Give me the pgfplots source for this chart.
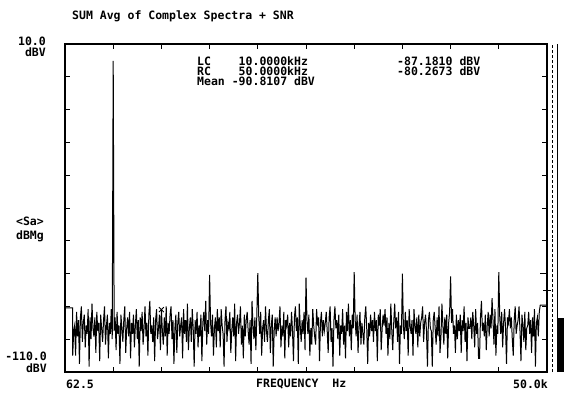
\documentclass[border=0pt]{standalone}
\usepackage{pgfplots}
\pgfplotsset{compat=1.18}
\usepackage{fontspec}
\newfontfamily\plotfont{DejaVu Sans Mono}
\newcommand\pf{\plotfont\bfseries\fontsize{11.5bp}{12bp}\selectfont}
\begin{document}
\begin{tikzpicture}
\useasboundingbox (-65bp,-22bp) rectangle (499bp,372bp);
\begin{axis}[
  at={(0,0)}, anchor=south west,
  scale only axis, width=482bp, height=328bp,
  xmin=0, xmax=50, ymin=-110, ymax=10,
  xtick={0,5,...,50}, ytick={-110,-98,...,10},
  xticklabels={}, yticklabels={},
  tick align=inside, major tick length=5bp,
  tick style={black, line width=0.9bp},
  axis line style={black, line width=1.1bp},
  clip=false,
]
\addplot[black, line width=1.0bp, mark=none] coordinates {
(0,-109)(0,-86.5)(0.8,-86.5)(0.8,-104)(0.9,-95)
(1.0,-93)(1.1,-104)(1.2,-88)(1.3,-97)(1.4,-91)(1.5,-107)(1.6,-90)(1.7,-86)(1.8,-99)(1.9,-92)
(2.0,-89)(2.1,-101)(2.2,-93)(2.3,-96)(2.4,-87)(2.5,-108)(2.6,-90)(2.7,-98)(2.8,-85)(2.9,-94)
(3.0,-97)(3.1,-90)(3.2,-103)(3.3,-88)(3.4,-95)(3.5,-92)(3.6,-106)(3.7,-89)(3.8,-94)(3.9,-99)
(4.0,-91)(4.1,-86)(4.2,-100)(4.3,-93)(4.4,-89)(4.5,-105)(4.6,-92)(4.7,-96)(4.8,-87)(4.9,-98)
(5.0,3.8)(5.1,-95)(5.2,-90)(5.3,-102)(5.4,-88)(5.5,-96)(5.6,-93)(5.7,-107)(5.8,-89)(5.9,-94)
(6.0,-99)(6.1,-91)(6.2,-86)(6.3,-103)(6.4,-94)(6.5,-90)(6.6,-97)(6.7,-88)(6.8,-105)(6.9,-92)
(7.0,-96)(7.1,-89)(7.2,-101)(7.3,-93)(7.4,-87)(7.5,-98)(7.6,-91)(7.7,-108)(7.8,-90)(7.9,-95)
(8.0,-88)(8.1,-100)(8.2,-94)(8.3,-86)(8.4,-97)(8.5,-92)(8.6,-104)(8.7,-89)(8.8,-84)(8.9,-96)
(9.0,-93)(9.1,-99)(9.2,-90)(9.3,-106)(9.4,-91)(9.5,-87)(9.6,-98)(9.7,-94)(9.8,-89)(9.9,-102)
(10.0,-87.18)(10.1,-95)(10.2,-100)(10.3,-90)(10.4,-97)(10.5,-86)(10.6,-104)(10.7,-92)(10.8,-96)(10.9,-89)
(11.0,-86)(11.1,-98)(11.2,-91)(11.3,-107)(11.4,-94)(11.5,-89)(11.6,-103)(11.7,-92)(11.8,-88)(11.9,-97)
(12.0,-93)(12.1,-90)(12.2,-105)(12.3,-87)(12.4,-96)(12.5,-91)(12.6,-99)(12.7,-85)(12.8,-102)(12.9,-94)
(13.0,-90)(13.1,-99)(13.2,-87)(13.3,-94)(13.4,-108)(13.5,-91)(13.6,-96)(13.7,-88)(13.8,-101)(13.9,-93)
(14.0,-97)(14.1,-89)(14.2,-106)(14.3,-92)(14.4,-88)(14.5,-95)(14.6,-84)(14.7,-100)(14.8,-91)(14.9,-96)
(15.0,-74.5)(15.1,-92)(15.2,-97)(15.3,-89)(15.4,-104)(15.5,-94)(15.6,-90)(15.7,-101)(15.8,-87)(15.9,-95)
(16.0,-90)(16.1,-101)(16.2,-87)(16.3,-93)(16.4,-96)(16.5,-108)(16.6,-91)(16.7,-86)(16.8,-99)(16.9,-92)
(17.0,-94)(17.1,-88)(17.2,-103)(17.3,-95)(17.4,-90)(17.5,-97)(17.6,-85)(17.7,-106)(17.8,-92)(17.9,-89)
(18.0,-96)(18.1,-92)(18.2,-86)(18.3,-100)(18.4,-93)(18.5,-105)(18.6,-89)(18.7,-97)(18.8,-91)(18.9,-88)
(19.0,-95)(19.1,-100)(19.2,-91)(19.3,-107)(19.4,-84)(19.5,-93)(19.6,-98)(19.7,-90)(19.8,-102)(19.9,-89)
(20.0,-73.8)(20.1,-90)(20.2,-96)(20.3,-88)(20.4,-104)(20.5,-94)(20.6,-91)(20.7,-99)(20.8,-86)(20.9,-95)
(21.0,-99)(21.1,-91)(21.2,-87)(21.3,-103)(21.4,-93)(21.5,-89)(21.6,-108)(21.7,-95)(21.8,-90)(21.9,-97)
(22.0,-90)(22.1,-95)(22.2,-92)(22.3,-86)(22.4,-101)(22.5,-93)(22.6,-97)(22.7,-88)(22.8,-105)(22.9,-91)
(23.0,-93)(23.1,-89)(23.2,-101)(23.3,-92)(23.4,-97)(23.5,-88)(23.6,-95)(23.7,-106)(23.8,-90)(23.9,-86)
(24.0,-95)(24.1,-90)(24.2,-107)(24.3,-85)(24.4,-93)(24.5,-99)(24.6,-91)(24.7,-96)(24.8,-88)(24.9,-102)
(25.0,-75.5)(25.1,-91)(25.2,-96)(25.3,-89)(25.4,-104)(25.5,-94)(25.6,-100)(25.7,-87)(25.8,-93)(25.9,-97)
(26.0,-100)(26.1,-87)(26.2,-93)(26.3,-90)(26.4,-106)(26.5,-92)(26.6,-88)(26.7,-97)(26.8,-91)(26.9,-95)
(27.0,-92)(27.1,-88)(27.2,-95)(27.3,-103)(27.4,-90)(27.5,-86)(27.6,-99)(27.7,-94)(27.8,-108)(27.9,-91)
(28.0,-86)(28.1,-94)(28.2,-91)(28.3,-98)(28.4,-89)(28.5,-104)(28.6,-93)(28.7,-96)(28.8,-87)(28.9,-100)
(29.0,-93)(29.1,-105)(29.2,-88)(29.3,-95)(29.4,-85)(29.5,-97)(29.6,-91)(29.7,-102)(29.8,-89)(29.9,-94)
(30.0,-73.5)(30.1,-91)(30.2,-97)(30.3,-89)(30.4,-103)(30.5,-93)(30.6,-88)(30.7,-100)(30.8,-92)(30.9,-96)
(31.0,-100)(31.1,-90)(31.2,-86)(31.3,-94)(31.4,-107)(31.5,-92)(31.6,-97)(31.7,-89)(31.8,-95)(31.9,-91)
(32.0,-99)(32.1,-88)(32.2,-95)(32.3,-91)(32.4,-106)(32.5,-89)(32.6,-93)(32.7,-87)(32.8,-102)(32.9,-94)
(33.0,-89)(33.1,-93)(33.2,-87)(33.3,-96)(33.4,-90)(33.5,-104)(33.6,-92)(33.7,-98)(33.8,-85)(33.9,-95)
(34.0,-102)(34.1,-92)(34.2,-85)(34.3,-94)(34.4,-90)(34.5,-99)(34.6,-88)(34.7,-107)(34.8,-93)(34.9,-96)
(35.0,-74)(35.1,-93)(35.2,-98)(35.3,-88)(35.4,-95)(35.5,-91)(35.6,-104)(35.7,-87)(35.8,-93)(35.9,-96)
(36.0,-91)(36.1,-104)(36.2,-87)(36.3,-93)(36.4,-96)(36.5,-90)(36.6,-101)(36.7,-89)(36.8,-97)(36.9,-92)
(37.0,-90)(37.1,-86)(37.2,-99)(37.3,-92)(37.4,-89)(37.5,-95)(37.6,-108)(37.7,-91)(37.8,-88)(37.9,-94)
(38.0,-95)(38.1,-108)(38.2,-91)(38.3,-88)(38.4,-94)(38.5,-100)(38.6,-90)(38.7,-97)(38.8,-86)(38.9,-103)
(39.0,-97)(39.1,-85)(39.2,-93)(39.3,-100)(39.4,-90)(39.5,-96)(39.6,-89)(39.7,-105)(39.8,-92)(39.9,-88)
(40.0,-75)(40.1,-92)(40.2,-87)(40.3,-96)(40.4,-93)(40.5,-103)(40.6,-89)(40.7,-98)(40.8,-91)(40.9,-95)
(41.0,-89)(41.1,-103)(41.2,-91)(41.3,-95)(41.4,-86)(41.5,-99)(41.6,-92)(41.7,-106)(41.8,-90)(41.9,-94)
(42.0,-94)(42.1,-90)(42.2,-98)(42.3,-88)(42.4,-93)(42.5,-101)(42.6,-87)(42.7,-96)(42.8,-92)(42.9,-105)
(43.0,-105)(43.1,-90)(43.2,-84)(43.3,-95)(43.4,-92)(43.5,-97)(43.6,-89)(43.7,-102)(43.8,-93)(43.9,-88)
(44.0,-97)(44.1,-89)(44.2,-94)(44.3,-83)(44.4,-91)(44.5,-100)(44.6,-87)(44.7,-104)(44.8,-93)(44.9,-96)
(45.0,-73.5)(45.1,-90)(45.2,-96)(45.3,-88)(45.4,-101)(45.5,-92)(45.6,-87)(45.7,-94)(45.8,-107)(45.9,-90)
(46.0,-92)(46.1,-87)(46.2,-94)(46.3,-90)(46.4,-98)(46.5,-104)(46.6,-91)(46.7,-86)(46.8,-96)(46.9,-93)
(47.0,-91)(47.1,-86)(47.2,-95)(47.3,-106)(47.4,-89)(47.5,-93)(47.6,-99)(47.7,-88)(47.8,-102)(47.9,-94)
(48.0,-93)(48.1,-88)(48.2,-96)(48.3,-91)(48.4,-103)(48.5,-90)(48.6,-97)(48.7,-87)(48.8,-108)(48.9,-92)
(49.0,-90)(49.1,-97)(49.2,-88)(49.3,-85.5)(50.0,-85.5)(50.0,-109)
};
\addplot[black, line width=1.0bp, mark=none] coordinates {(49.3,-73.8)(50,-73.8)};
\addplot[only marks, mark=x, mark size=3.5bp, black, line width=0.9bp] coordinates {(10,-87.18)};
\addplot[only marks, mark=+, mark size=4bp, black, line width=1bp] coordinates {(50,-80.27)};
\draw[black, densely dashed, line width=0.6bp] (axis cs:50.6,-110) -- (axis cs:50.6,10);
\draw[black, line width=1bp] (axis cs:51.1,-110) -- (axis cs:51.1,10);
\fill[black] (axis cs:51.1,-110) rectangle (axis cs:51.8,-90.2);
\end{axis}
\node[anchor=base west, inner sep=0, font=\pf] at (7bp,352bp) {SUM Avg of Complex Spectra + SNR};
\node[anchor=base west, inner sep=0, font=\pf] at (132bp,306bp) {LC~~~~10.0000kHz};
\node[anchor=base west, inner sep=0, font=\pf] at (132bp,296bp) {RC~~~~50.0000kHz};
\node[anchor=base west, inner sep=0, font=\pf] at (132bp,286bp) {Mean~-90.8107~dBV};
\node[anchor=base west, inner sep=0, font=\pf] at (332bp,306bp) {-87.1810~dBV};
\node[anchor=base west, inner sep=0, font=\pf] at (332bp,296bp) {-80.2673~dBV};
\node[anchor=base east, inner sep=0, font=\pf] at (-19bp,326bp) {10.0};
\node[anchor=base east, inner sep=0, font=\pf] at (-19bp,315bp) {dBV};
\node[anchor=base east, inner sep=0, font=\pf] at (-21bp,146bp) {<Sa>};
\node[anchor=base east, inner sep=0, font=\pf] at (-21bp,132bp) {dBMg};
\node[anchor=base east, inner sep=0, font=\pf] at (-18bp,12bp) {-110.0};
\node[anchor=base east, inner sep=0, font=\pf] at (-18bp,0bp) {dBV};
\node[anchor=base west, inner sep=0, font=\pf] at (1bp,-16bp) {62.5};
\node[anchor=base east, inner sep=0, font=\pf] at (483bp,-16bp) {50.0k};
\node[anchor=base west, inner sep=0, font=\pf] at (191bp,-15bp) {FREQUENCY~~Hz};
\end{tikzpicture}
\end{document}
